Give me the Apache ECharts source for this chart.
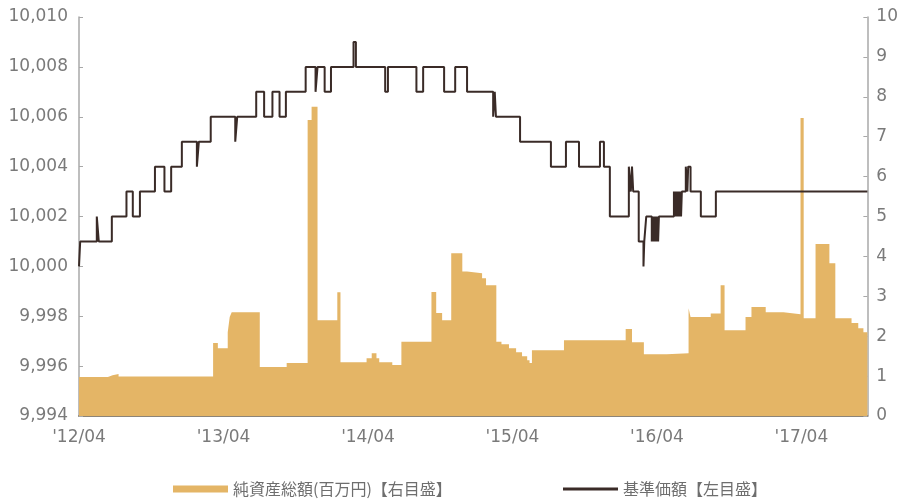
<!DOCTYPE html>
<html><head><meta charset="utf-8">
<script src="https://cdn.jsdelivr.net/npm/echarts@6/dist/echarts.min.js"></script>
<style>html,body{margin:0;padding:0;background:#fff}#c{width:901px;height:502px}</style>
</head><body><div id="c"></div>
<script>
// X axis
var xMin = '2012-04-01';
var xMax = '2017-09-15';
var xTickDates = ['2012-04-01','2013-04-01','2014-04-01','2015-04-01','2016-04-01','2017-04-01'];
var xTickLabels = ["'12/04","'13/04","'14/04","'15/04","'16/04","'17/04"];

// Series names
var nameAssets = '純資産総額(百万円)【右目盛】';
var nameNav = '基準価額【左目盛】';

// 基準価額 (NAV, left axis) – value changes (step)
var navDates = ['2012-04-01','2012-04-04','2012-05-16','2012-05-21','2012-06-23','2012-07-30','2012-08-15','2012-09-02',
 '2012-10-10','2012-11-03','2012-11-20','2012-12-17','2013-01-24','2013-01-29','2013-02-28','2013-05-01','2013-05-06',
 '2013-06-23','2013-07-13','2013-08-03','2013-08-21','2013-09-06','2013-10-26','2013-11-20','2013-11-25','2013-12-13',
 '2013-12-29','2014-02-24','2014-03-02','2014-05-15','2014-05-22','2014-08-02','2014-08-19','2014-10-11','2014-11-08',
 '2014-12-08','2015-02-12','2015-02-16','2015-02-19','2015-04-21','2015-07-08','2015-08-15','2015-09-17','2015-11-09',
 '2015-11-19','2015-12-04','2016-01-21','2016-01-26','2016-01-29','2016-02-01','2016-02-15','2016-02-27','2016-02-29',
 '2016-03-05','2016-03-19','2016-03-21','2016-03-23','2016-03-25','2016-03-27','2016-03-29','2016-03-31','2016-04-02',
 '2016-04-04','2016-04-06','2016-05-14','2016-05-16','2016-05-18','2016-05-20','2016-05-22','2016-05-24','2016-05-26',
 '2016-05-28','2016-05-30','2016-06-01','2016-06-03','2016-06-13','2016-06-17','2016-06-19','2016-06-25','2016-07-21',
 '2016-08-28','2017-09-15'];
var navValues = [10000,10001,10002,10001,10002,10003,10002,10003,
 10004,10003,10004,10005,10004,10005,10006,10005,10006,
 10007,10006,10007,10006,10007,10008,10007,10008,10007,
 10008,10009,10008,10007,10008,10007,10008,10007,10008,
 10007,10006,10007,10006,10005,10004,10005,10004,10005,
 10004,10002,10004,10003,10004,10003,10001,10000,10001,
 10002,10001,10002,10001,10002,10001,10002,10001,10002,
 10001,10002,10003,10002,10003,10002,10003,10002,10003,
 10002,10003,10002,10003,10004,10003,10004,10003,10002,
 10003,10003];

// 純資産総額 (net assets, million yen, right axis) – value changes (step)
var assetDates = ['2012-04-01','2012-06-13','2012-06-25','2012-07-10','2013-03-06','2013-03-18','2013-04-12','2013-04-17',
 '2013-04-22','2013-07-02','2013-09-08','2013-10-31','2013-11-10','2013-11-25','2014-01-14','2014-01-22','2014-03-29',
 '2014-04-11','2014-04-23','2014-04-30','2014-06-02','2014-06-25','2014-09-09','2014-09-21','2014-10-06','2014-10-29',
 '2014-11-26','2014-12-08','2015-01-15','2015-01-25','2015-02-20','2015-03-05','2015-03-24','2015-04-11','2015-04-26',
 '2015-05-09','2015-05-15','2015-05-21','2015-08-10','2016-01-13','2016-01-29','2016-02-28','2016-04-26','2016-06-20',
 '2016-06-25','2016-08-15','2016-09-09','2016-09-19','2016-11-11','2016-11-26','2017-01-01','2017-02-15','2017-03-30',
 '2017-04-07','2017-05-07','2017-06-11','2017-06-26','2017-08-06','2017-08-23','2017-09-05','2017-09-15'];
var assetValues = [0.98,1.02,1.05,0.99,1.83,1.70,2.10,2.48,
 2.60,1.23,1.33,7.42,7.75,2.40,3.10,1.35,1.45,
 1.57,1.45,1.35,1.28,1.86,3.11,2.58,2.40,4.08,
 3.62,3.58,3.45,3.28,1.86,1.80,1.70,1.60,1.50,
 1.40,1.33,1.65,1.90,2.18,1.85,1.55,1.57,2.70,
 2.48,2.57,3.28,2.15,2.48,2.73,2.60,2.55,7.47,
 2.45,4.31,3.83,2.45,2.33,2.20,2.10,2.10];

function ts(s){ var p = s.split('-'); return Date.UTC(+p[0], +p[1]-1, +p[2]); }
var YEAR = 365.25 * 86400000;
var minT = ts(xMin), maxT = ts(xMax);
var tickValues = xTickDates.map(ts);
function xLabel(v){
  for (var i = 0; i < tickValues.length; i++) {
    if (Math.abs(v - tickValues[i]) < 3 * 86400000) return xTickLabels[i];
  }
  return '';
}

var navData = navDates.map(function(d,i){ return [ts(d), navValues[i]]; });
var assetData = assetDates.map(function(d,i){ return [ts(d), assetValues[i]]; });

var TAN = '#E4B566', DARK = '#3a2b27', GREY = '#7a7a7a';
var chart = echarts.init(document.getElementById('c'));
chart.setOption({
  animation: false,
  backgroundColor: '#fff',
  grid: { left: 79, right: 32, top: 17, bottom: 86 },
  legend: [
    { data: [nameAssets], left: 168, top: 476, icon: 'rect', itemWidth: 55, itemHeight: 7, itemGap: 10,
      textStyle: { fontSize: 16, color: '#6e6e6e', fontFamily: 'Noto Sans CJK JP' } },
    { data: [nameNav], left: 558, top: 476, icon: 'rect', itemWidth: 55, itemHeight: 3, itemGap: 10,
      textStyle: { fontSize: 16, color: '#6e6e6e', fontFamily: 'Noto Sans CJK JP' } }
  ],
  xAxis: {
    type: 'value', min: minT, max: maxT, interval: YEAR,
    axisLine: { lineStyle: { color: '#8c8478', width: 2 } },
    axisTick: { show: true, inside: true, length: 4, lineStyle: { color: '#555' } },
    axisLabel: { margin: 13, fontSize: 17, color: GREY, fontFamily: 'DejaVu Sans', showMaxLabel: false,
      formatter: function(v){ return xLabel(v); } },
    splitLine: { show: false }
  },
  yAxis: [
    { type: 'value', min: 9994, max: 10010, interval: 2, position: 'left',
      axisLine: { show: true, lineStyle: { color: '#a8a8a8', width: 1.5 } },
      axisTick: { show: true, inside: true, length: 4, lineStyle: { color: '#a8a8a8' } },
      axisLabel: { margin: 11, fontSize: 17, color: GREY, fontFamily: 'DejaVu Sans',
        formatter: function(v){ return v.toLocaleString('en-US'); } },
      splitLine: { show: false } },
    { type: 'value', min: 0, max: 10, interval: 1, position: 'right',
      axisLine: { show: true, lineStyle: { color: '#a8a8a8', width: 1.5 } },
      axisTick: { show: true, inside: true, length: 4, lineStyle: { color: '#a8a8a8' } },
      axisLabel: { margin: 9, fontSize: 17, color: GREY, fontFamily: 'DejaVu Sans' },
      splitLine: { show: false } }
  ],
  series: [
    { name: nameAssets, type: 'line', yAxisIndex: 1, step: 'end', data: assetData, symbol: 'none', z: 1,
      itemStyle: { color: TAN }, lineStyle: { width: 0, color: TAN }, areaStyle: { color: TAN, opacity: 1 } },
    { name: nameNav, type: 'line', yAxisIndex: 0, step: 'end', data: navData, symbol: 'none', z: 3,
      itemStyle: { color: DARK }, lineStyle: { width: 2, color: DARK } }
  ]
});
</script></body></html>
